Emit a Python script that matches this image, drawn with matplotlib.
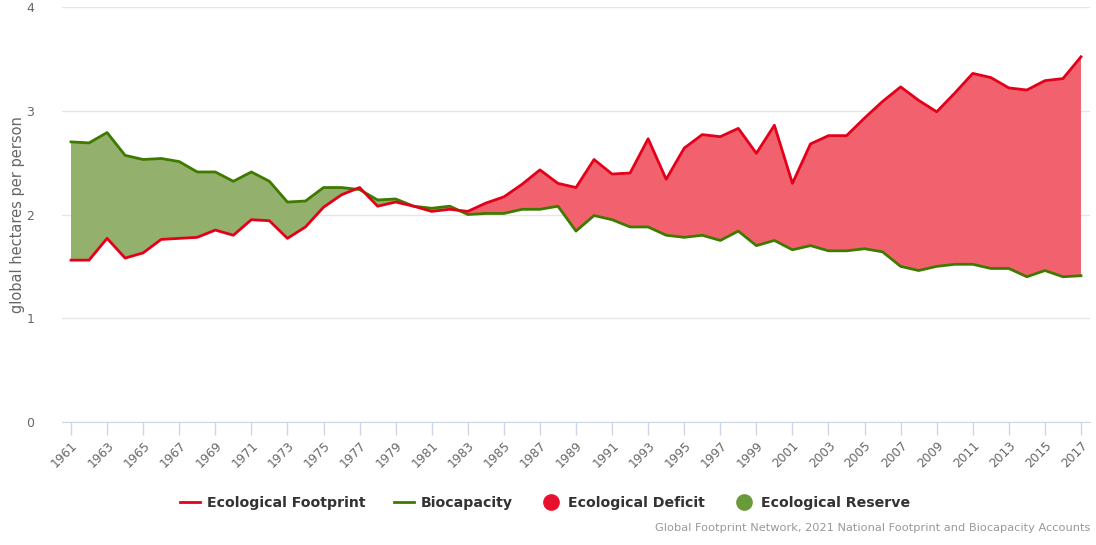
import matplotlib
matplotlib.use("Agg")
import matplotlib.pyplot as plt
from matplotlib.lines import Line2D
import numpy as np

years = list(range(1961, 2018))
footprint = [1.56, 1.56, 1.77, 1.58, 1.63, 1.76, 1.77, 1.78, 1.85, 1.80,
             1.95, 1.94, 1.77, 1.88, 2.07, 2.19, 2.26, 2.08, 2.12, 2.08,
             2.03, 2.05, 2.03, 2.11, 2.17, 2.29, 2.43, 2.30, 2.26, 2.53,
             2.39, 2.40, 2.73, 2.34, 2.64, 2.77, 2.75, 2.83, 2.59, 2.86,
             2.30, 2.68, 2.76, 2.76, 2.93, 3.09, 3.23, 3.10, 2.99, 3.17,
             3.36, 3.32, 3.22, 3.20, 3.29, 3.31, 3.52]
biocapacity = [2.70, 2.69, 2.79, 2.57, 2.53, 2.54, 2.51, 2.41, 2.41, 2.32,
               2.41, 2.32, 2.12, 2.13, 2.26, 2.26, 2.24, 2.14, 2.15, 2.08,
               2.06, 2.08, 2.00, 2.01, 2.01, 2.05, 2.05, 2.08, 1.84, 1.99,
               1.95, 1.88, 1.88, 1.80, 1.78, 1.80, 1.75, 1.84, 1.70, 1.75,
               1.66, 1.70, 1.65, 1.65, 1.67, 1.64, 1.50, 1.46, 1.50, 1.52,
               1.52, 1.48, 1.48, 1.40, 1.46, 1.40, 1.41]
y_ticks = [0, 1, 2, 3, 4]
x_tick_years = list(range(1961, 2018, 2))

RED_LINE = "#e5001a"
GREEN_LINE = "#3f7a00"
RED_FILL = "#f2626e"
GREEN_FILL = "#93b16c"
RED_DOT = "#e8112d"
GREEN_DOT = "#6a9a3a"

fig = plt.figure(figsize=(10.96, 5.45), dpi=100)
ax = fig.add_axes([62/1096, 1-422/545, (1090-62)/1096, (422-7)/545])

x = np.array(years, dtype=float)
fp = np.array(footprint)
bc = np.array(biocapacity)

ax.fill_between(x, bc, fp, where=fp >= bc, interpolate=True, color=RED_FILL, lw=0, zorder=2)
ax.fill_between(x, bc, fp, where=bc >= fp, interpolate=True, color=GREEN_FILL, lw=0, zorder=2)
ax.plot(x, bc, color=GREEN_LINE, lw=2, zorder=3, solid_joinstyle="round")
ax.plot(x, fp, color=RED_LINE, lw=2, zorder=4, solid_joinstyle="round")

ax.set_xlim(1960.5, 2017.5)
ax.set_ylim(0, 4)
ax.set_yticks(y_ticks)
ax.set_yticklabels([str(v) for v in y_ticks], color="#666666", fontsize=9)
ax.set_xticks(x_tick_years)
ax.set_xticklabels([str(v) for v in x_tick_years], rotation=45, ha="right",
                   rotation_mode="anchor", color="#666666", fontsize=8.8)
ax.tick_params(axis="y", length=0, pad=20)
ax.tick_params(axis="x", length=9, color="#ccd6eb", width=1, pad=3)
ax.grid(axis="y", color="#e6e6e6", lw=1, zorder=0)
for s in ["top", "right", "left"]:
    ax.spines[s].set_visible(False)
ax.spines["bottom"].set_color("#ccd6eb")
ax.spines["bottom"].set_zorder(1)
ax.set_ylabel("global hectares per person", color="#666666", fontsize=10.5, labelpad=1)

handles = [
    Line2D([], [], color=RED_LINE, lw=2),
    Line2D([], [], color=GREEN_LINE, lw=2),
    Line2D([], [], color=RED_DOT, lw=0, marker="o", markersize=11),
    Line2D([], [], color=GREEN_DOT, lw=0, marker="o", markersize=11),
]
labels = ["Ecological Footprint", "Biocapacity", "Ecological Deficit", "Ecological Reserve"]
leg = fig.legend(handles, labels, loc="center", bbox_to_anchor=(545/1096, 1-503/545),
                 ncol=4, frameon=False, handlelength=1.4, handletextpad=0.5,
                 columnspacing=2.0, prop={"weight": "bold", "size": 10.2})
for t in leg.get_texts():
    t.set_color("#333333")

fig.text(1090/1096, 1-528/545,
         "Global Footprint Network, 2021 National Footprint and Biocapacity Accounts",
         ha="right", va="center", color="#999999", fontsize=8.2)

fig.savefig("out.png", dpi=100)
